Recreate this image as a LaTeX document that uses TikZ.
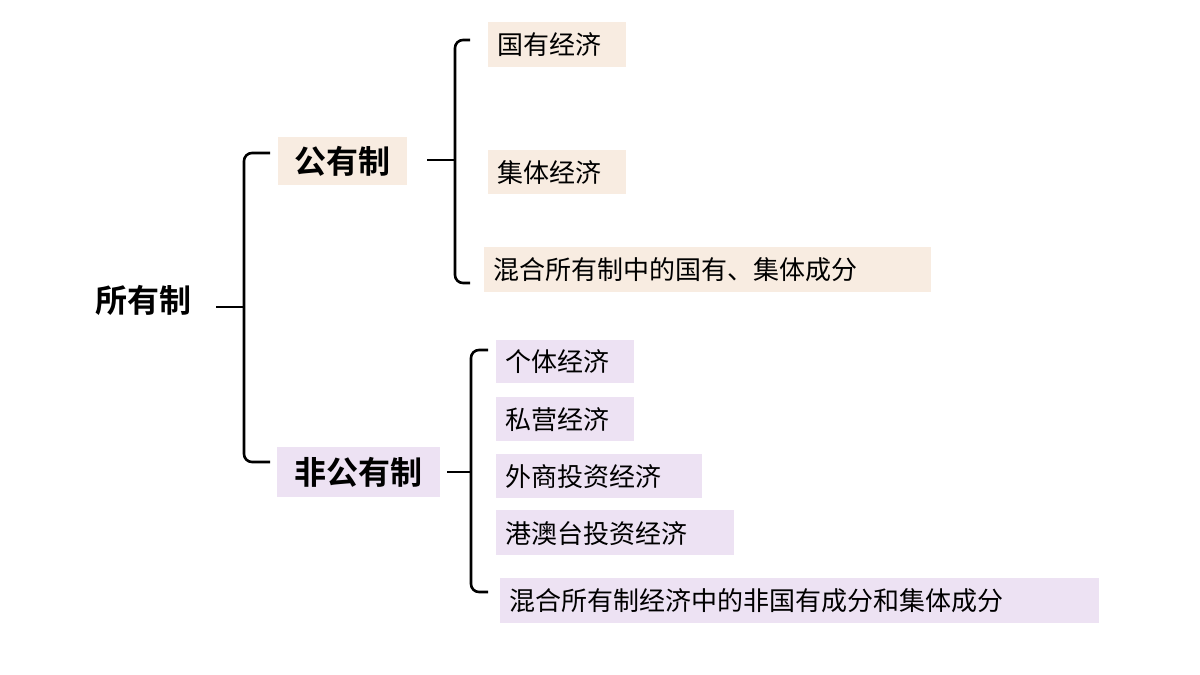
\documentclass[tikz,border=0pt]{standalone}
\usepackage{fontspec}
\newfontfamily\cjk{Noto Sans CJK SC}
\newfontfamily\cjkb{Noto Sans CJK SC Bold}
\begin{document}
\begin{tikzpicture}[x=0.5pt,y=-0.5pt,
  pub/.style={fill={rgb,255:red,248;green,236;blue,225}},
  npub/.style={fill={rgb,255:red,237;green,226;blue,243}},
  lbl/.style={font=\cjk\fontsize{13}{15}\selectfont,anchor=west,inner sep=0pt},
  big/.style={font=\cjkb\fontsize{16}{18}\selectfont,inner sep=0pt},
  br/.style={draw=black,line width=1.3pt,rounded corners=4pt}]
\useasboundingbox (0,0) rectangle (1200,675);
% boxes
\fill[pub] (278,137) rectangle (407,185);
\fill[npub] (277,447) rectangle (440,497);
\fill[pub] (488,22) rectangle (626,67);
\fill[pub] (488,150) rectangle (626,194);
\fill[pub] (484,247) rectangle (931,292);
\fill[npub] (496,340) rectangle (634,383);
\fill[npub] (496,397) rectangle (634,441);
\fill[npub] (496,454) rectangle (702,498);
\fill[npub] (496,510) rectangle (734,555);
\fill[npub] (500,578) rectangle (1099,623);
% texts
\node[big] (root) at (143,300) {所有制};
\node[big] (gy) at (342,161) {公有制};
\node[big] (fg) at (358,472) {非公有制};
\node[lbl] (a1) at (497,45) {国有经济};
\node[lbl] (a2) at (497,173) {集体经济};
\node[lbl] (a3) at (493,270) {混合所有制中的国有、集体成分};
\node[lbl] (b1) at (505,362) {个体经济};
\node[lbl] (b2) at (505,420) {私营经济};
\node[lbl] (b3) at (505,477) {外商投资经济};
\node[lbl] (b4) at (505,534) {港澳台投资经济};
\node[lbl] (b5) at (509,601) {混合所有制经济中的非国有成分和集体成分};
% brackets
\coordinate (t1) at (216,307);
\draw[br] (270,153) -- (244,153) -- (244,462) -- (270,462);
\draw[br] (216,307) -- (244,307);
\coordinate (t2) at (427,160);
\draw[br] (470,40) -- (455,40) -- (455,283) -- (470,283);
\draw[br] (t2) -- (455,160);
\coordinate (t3) at (447,472);
\draw[br] (488,350) -- (471,350) -- (471,592) -- (488,592);
\draw[br] (t3) -- (471,472);
\end{tikzpicture}
\end{document}
